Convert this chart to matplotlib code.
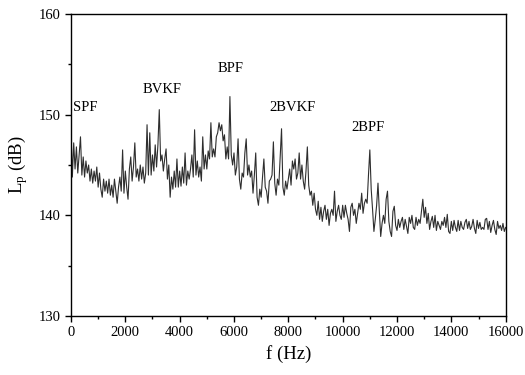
import numpy as np
import matplotlib
matplotlib.use("Agg")
import matplotlib.pyplot as plt
from matplotlib.ticker import MultipleLocator

plt.rcParams['font.family'] = ['Liberation Serif', 'DejaVu Serif']
plt.rcParams['mathtext.fontset'] = 'custom'
plt.rcParams['mathtext.rm'] = 'Liberation Serif'
plt.rcParams['mathtext.it'] = 'Liberation Serif:italic'

freq_step_hz = 50
levels_db = [
    148.6, 143.8, 147.2, 144.6, 146.8, 144.2, 146.0, 147.8, 144.0, 145.8,   # 0.00-0.45 kHz
    143.8, 145.4, 144.2, 145.0, 143.4, 144.6, 143.2, 144.4, 143.4, 144.8,   # 0.50-0.95
    142.8, 144.2, 142.6, 141.8, 143.6, 142.4, 143.4, 142.2, 143.6, 142.0,   # 1.00-1.45
    143.0, 141.8, 143.6, 142.4, 141.2, 142.8, 143.8, 142.4, 146.5, 142.2,   # 1.50-1.95
    144.4, 142.8, 141.6, 144.6, 145.8, 143.4, 144.8, 147.2, 143.8, 144.6,   # 2.00-2.45
    143.4, 145.0, 143.6, 144.8, 143.2, 144.2, 149.0, 144.0, 148.2, 144.0,   # 2.50-2.95
    146.0, 144.4, 147.0, 144.8, 147.0, 150.5, 145.4, 146.0, 144.4, 145.6,   # 3.00-3.45
    146.6, 143.6, 145.0, 141.8, 143.8, 142.6, 144.4, 142.8, 145.6, 142.8,   # 3.50-3.95
    144.4, 142.9, 144.8, 143.2, 146.2, 143.0, 144.4, 143.6, 144.6, 146.0,   # 4.00-4.45
    143.8, 148.5, 144.0, 145.4, 143.8, 144.8, 143.4, 147.8, 144.6, 146.0,   # 4.50-4.95
    144.6, 146.4, 145.6, 149.2, 145.8, 146.6, 145.8, 147.8, 148.2, 149.2,   # 5.00-5.45
    148.4, 149.0, 147.4, 148.0, 145.6, 146.8, 145.6, 151.8, 146.0, 145.0,   # 5.50-5.95
    146.2, 144.0, 144.8, 147.6, 143.6, 142.6, 144.2, 143.8, 146.2, 147.6,   # 6.00-6.45
    144.0, 145.0, 143.8, 144.4, 142.2, 144.0, 146.2, 141.8, 141.0, 142.6,   # 6.50-6.95
    141.8, 143.8, 145.6, 142.8, 142.4, 141.2, 143.4, 143.6, 144.0, 147.3,   # 7.00-7.45
    143.2, 142.0, 143.6, 143.0, 145.8, 148.6, 142.8, 142.0, 143.4, 142.6,   # 7.50-7.95
    143.6, 144.6, 143.0, 145.4, 144.6, 145.6, 143.6, 144.2, 146.2, 143.6,   # 8.00-8.45
    145.0, 143.4, 142.6, 144.4, 146.8, 143.0, 142.0, 142.4, 141.0, 142.2,   # 8.50-8.95
    140.6, 140.0, 141.4, 139.6, 140.8, 139.4, 140.4, 141.0, 139.6, 140.6,   # 9.00-9.45
    139.0, 140.2, 140.6, 140.0, 142.4, 139.4, 140.4, 141.0, 140.0, 139.6,   # 9.50-9.95
    141.0, 139.8, 141.0, 140.2, 139.6, 138.4, 140.8, 141.2, 140.0, 140.6,   # 10.00-10.45
    139.2, 140.2, 141.2, 140.6, 142.2, 140.2, 141.2, 141.6, 141.2, 144.0,   # 10.50-10.95
    146.5, 142.6, 140.6, 138.4, 139.6, 141.0, 143.2, 140.4, 137.9, 139.2,   # 11.00-11.45
    140.0, 139.2, 141.6, 142.4, 139.4, 138.4, 137.9, 140.4, 140.9, 139.0,   # 11.50-11.95
    138.5, 139.6, 138.8, 139.4, 139.8, 138.6, 139.6, 138.9, 138.2, 139.8,   # 12.00-12.45
    139.2, 140.0, 138.8, 138.6, 139.8, 139.0, 139.6, 139.2, 140.4, 141.6,   # 12.50-12.95
    139.8, 140.8, 139.2, 140.2, 138.6, 139.4, 139.9, 138.8, 140.0, 138.5,   # 13.00-13.45
    139.4, 139.0, 138.6, 139.4, 139.0, 139.8, 138.8, 140.1, 138.4, 138.2,   # 13.50-13.95
    139.4, 138.5, 139.5, 138.8, 138.4, 139.5, 138.5, 139.4, 138.8, 138.6,   # 14.00-14.45
    139.3, 139.6, 138.7, 139.4, 138.6, 138.9, 139.6, 138.7, 138.2, 139.5,   # 14.50-14.95
    138.7, 139.3, 138.6, 138.8, 138.6, 139.6, 139.7, 138.6, 139.4, 138.3,   # 15.00-15.45
    139.0, 139.5, 138.6, 138.1, 139.4, 138.7, 139.0, 138.5, 139.2, 138.4,   # 15.50-15.95
    138.8,                                                                  # 16.00
]
freqs_hz = np.arange(len(levels_db)) * freq_step_hz

label_texts = ["SPF", "BVKF", "BPF", "2BVKF", "2BPF"]
label_freqs = [80, 3370, 5870, 8150, 10950]
label_levels = [150.7, 152.5, 154.6, 150.7, 148.7]
label_ha = ["left", "center", "center", "center", "center"]

fig = plt.figure(figsize=(5.25, 3.75), dpi=100)
ax = fig.add_axes([0.1352, 0.1573, 0.828, 0.8054])

ax.plot(freqs_hz, levels_db, color="#2e2e2e", linewidth=0.8)

for t, fx, ly, ha in zip(label_texts, label_freqs, label_levels, label_ha):
    ax.text(fx, ly, t, ha=ha, va="center", fontsize=10.5)

ax.set_xlim(0, 16000)
ax.set_ylim(130, 160)
ax.xaxis.set_major_locator(MultipleLocator(2000))
ax.xaxis.set_minor_locator(MultipleLocator(1000))
ax.yaxis.set_major_locator(MultipleLocator(10))
ax.yaxis.set_minor_locator(MultipleLocator(5))
ax.tick_params(which="major", direction="out", length=4.5, width=1, labelsize=10.5, pad=3)
ax.tick_params(which="minor", direction="out", length=2.5, width=1)
ax.tick_params(top=False, right=False)
for s in ax.spines.values():
    s.set_linewidth(1.0)

ax.set_xlabel("f (Hz)", fontsize=13.5, labelpad=4)
ax.set_ylabel(r"L$_\mathrm{p}$ (dB)", fontsize=13.5, labelpad=6)

fig.savefig("out.png", dpi=100)
